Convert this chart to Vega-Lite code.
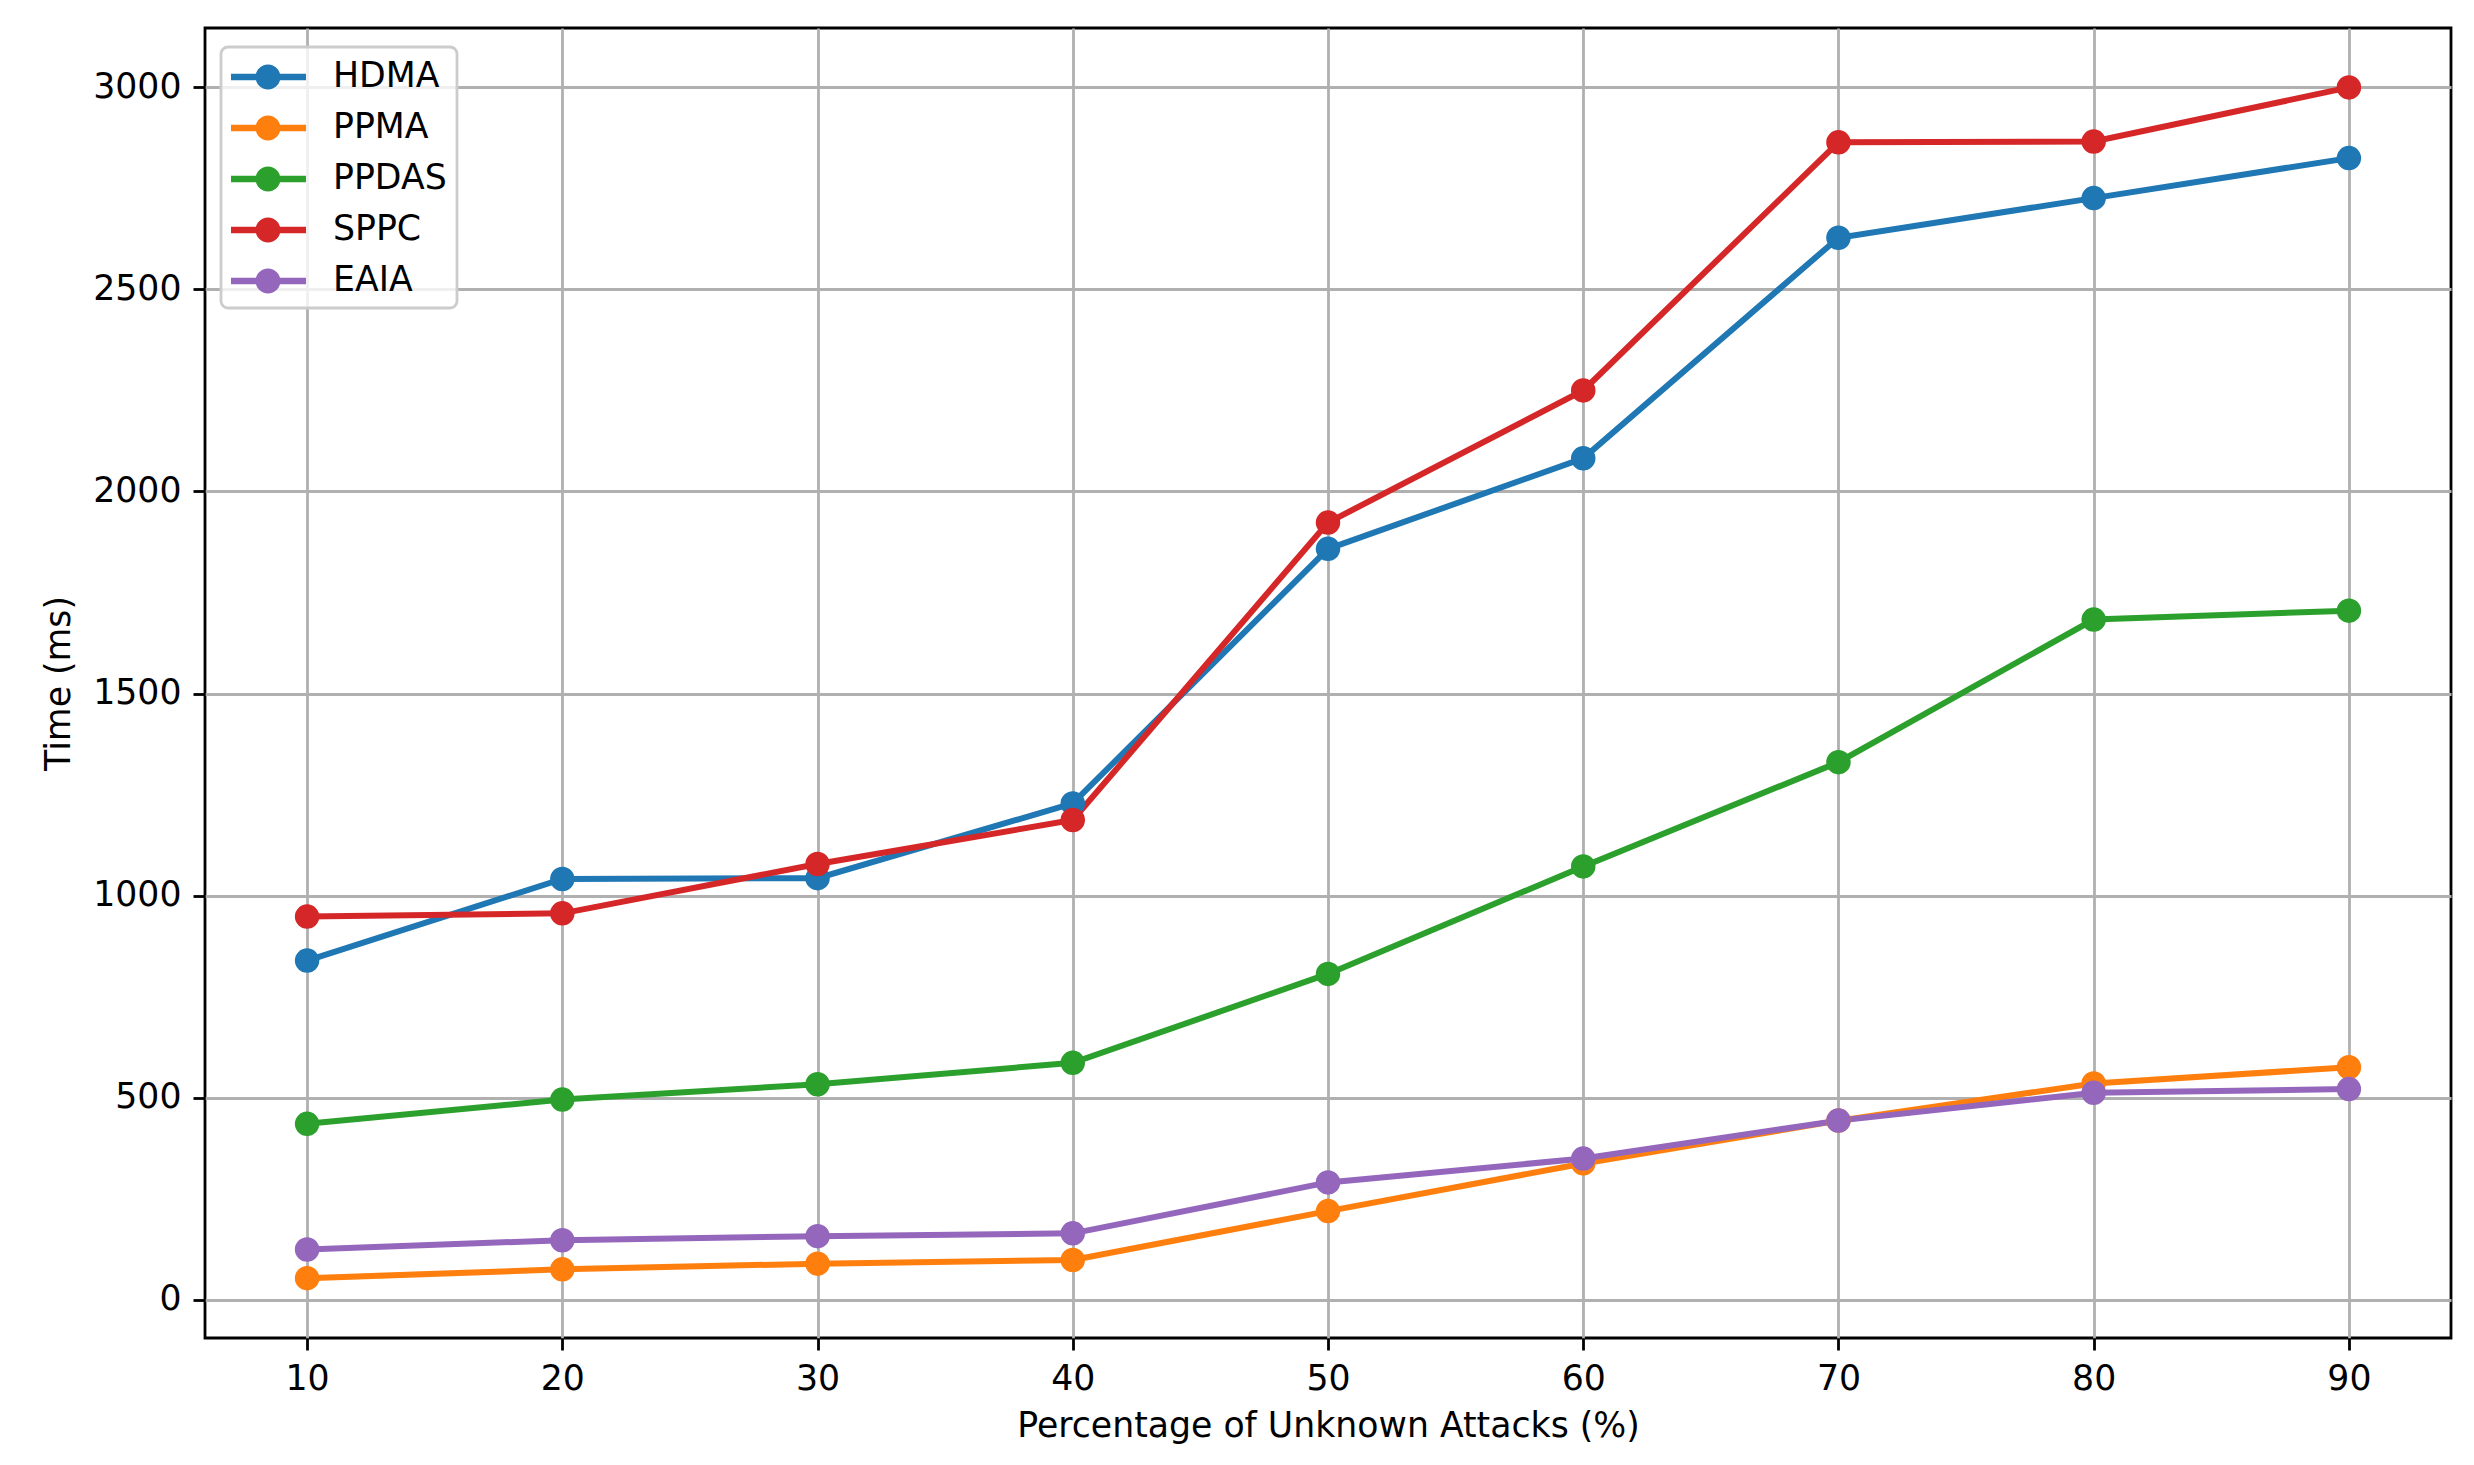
{
  "$schema": "https://vega.github.io/schema/vega-lite/v6.json",
  "autosize": "none",
  "padding": {"left": 205, "top": 28, "right": 23, "bottom": 127},
  "width": 2246,
  "height": 1310,
  "background": "white",
  "config": {
    "font": "DejaVu Sans",
    "view": {"stroke": "#000000", "strokeWidth": 2.8},
    "axis": {
      "grid": true, "gridColor": "#b0b0b0", "gridWidth": 2.8,
      "domain": false,
      "tickColor": "#000000", "tickSize": 12, "tickWidth": 2.8,
      "labelFontSize": 34.7, "labelColor": "#000000", "labelPadding": 12,
      "titleFontSize": 34.7, "titleFontWeight": "normal", "titleColor": "#000000"
    }
  },
  "data": {"values": [
    {"x": 10, "method": "HDMA", "time": 839}, {"x": 20, "method": "HDMA", "time": 1041}, {"x": 30, "method": "HDMA", "time": 1043},
    {"x": 40, "method": "HDMA", "time": 1228}, {"x": 50, "method": "HDMA", "time": 1858}, {"x": 60, "method": "HDMA", "time": 2082},
    {"x": 70, "method": "HDMA", "time": 2628}, {"x": 80, "method": "HDMA", "time": 2726}, {"x": 90, "method": "HDMA", "time": 2825},
    {"x": 10, "method": "PPMA", "time": 53}, {"x": 20, "method": "PPMA", "time": 75}, {"x": 30, "method": "PPMA", "time": 89},
    {"x": 40, "method": "PPMA", "time": 98}, {"x": 50, "method": "PPMA", "time": 219}, {"x": 60, "method": "PPMA", "time": 337},
    {"x": 70, "method": "PPMA", "time": 443}, {"x": 80, "method": "PPMA", "time": 535}, {"x": 90, "method": "PPMA", "time": 575},
    {"x": 10, "method": "PPDAS", "time": 435}, {"x": 20, "method": "PPDAS", "time": 495}, {"x": 30, "method": "PPDAS", "time": 533},
    {"x": 40, "method": "PPDAS", "time": 586}, {"x": 50, "method": "PPDAS", "time": 806}, {"x": 60, "method": "PPDAS", "time": 1072},
    {"x": 70, "method": "PPDAS", "time": 1330}, {"x": 80, "method": "PPDAS", "time": 1683}, {"x": 90, "method": "PPDAS", "time": 1705},
    {"x": 10, "method": "SPPC", "time": 948}, {"x": 20, "method": "SPPC", "time": 956}, {"x": 30, "method": "SPPC", "time": 1078},
    {"x": 40, "method": "SPPC", "time": 1187}, {"x": 50, "method": "SPPC", "time": 1923}, {"x": 60, "method": "SPPC", "time": 2250},
    {"x": 70, "method": "SPPC", "time": 2864}, {"x": 80, "method": "SPPC", "time": 2866}, {"x": 90, "method": "SPPC", "time": 3000},
    {"x": 10, "method": "EAIA", "time": 124}, {"x": 20, "method": "EAIA", "time": 147}, {"x": 30, "method": "EAIA", "time": 157},
    {"x": 40, "method": "EAIA", "time": 164}, {"x": 50, "method": "EAIA", "time": 290}, {"x": 60, "method": "EAIA", "time": 349},
    {"x": 70, "method": "EAIA", "time": 443}, {"x": 80, "method": "EAIA", "time": 512}, {"x": 90, "method": "EAIA", "time": 521}
  ]},
  "encoding": {
    "x": {"field": "x", "type": "quantitative",
      "scale": {"domain": [6, 94], "nice": false, "zero": false},
      "axis": {"values": [10, 20, 30, 40, 50, 60, 70, 80, 90], "format": "d", "title": "Percentage of Unknown Attacks (%)", "titlePadding": 14}},
    "y": {"field": "time", "type": "quantitative",
      "scale": {"domain": [-95, 3147], "nice": false, "zero": false},
      "axis": {"values": [0, 500, 1000, 1500, 2000, 2500, 3000], "format": "d", "title": "Time (ms)", "titlePadding": 16}},
    "color": {"field": "method", "type": "nominal",
      "scale": {"domain": ["HDMA", "PPMA", "PPDAS", "SPPC", "EAIA"], "range": ["#1f77b4", "#ff7f0e", "#2ca02c", "#d62728", "#9467bd"]},
      "legend": {
        "title": null, "orient": "none", "legendX": 16, "legendY": 19,
        "symbolType": "M-1,-0.16 L2.75,-0.16 L2.75,0.16 L-1,0.16 Z M0.225,0 A0.625,0.625 0 1,1 1.475,0 A0.625,0.625 0 1,1 0.225,0 Z",
        "symbolSize": 1600, "symbolStrokeWidth": 0, "symbolOpacity": 1,
        "labelFontSize": 34.7, "labelColor": "#000000", "labelOffset": 62,
        "rowPadding": 14, "padding": 10,
        "fillColor": "rgba(255,255,255,0.8)", "strokeColor": "#cccccc", "cornerRadius": 7,
        "encode": {
          "legend": {"update": {"strokeWidth": {"value": 2.8}}},
          "symbols": {"update": {"fill": {"scale": "color", "field": "value"}, "opacity": {"value": 1}, "strokeWidth": {"value": 0}}}
        }
      }}
  },
  "layer": [
    {"mark": {"type": "line", "strokeWidth": 6}},
    {"mark": {"type": "point", "filled": true, "size": 600, "opacity": 1}}
  ]
}
